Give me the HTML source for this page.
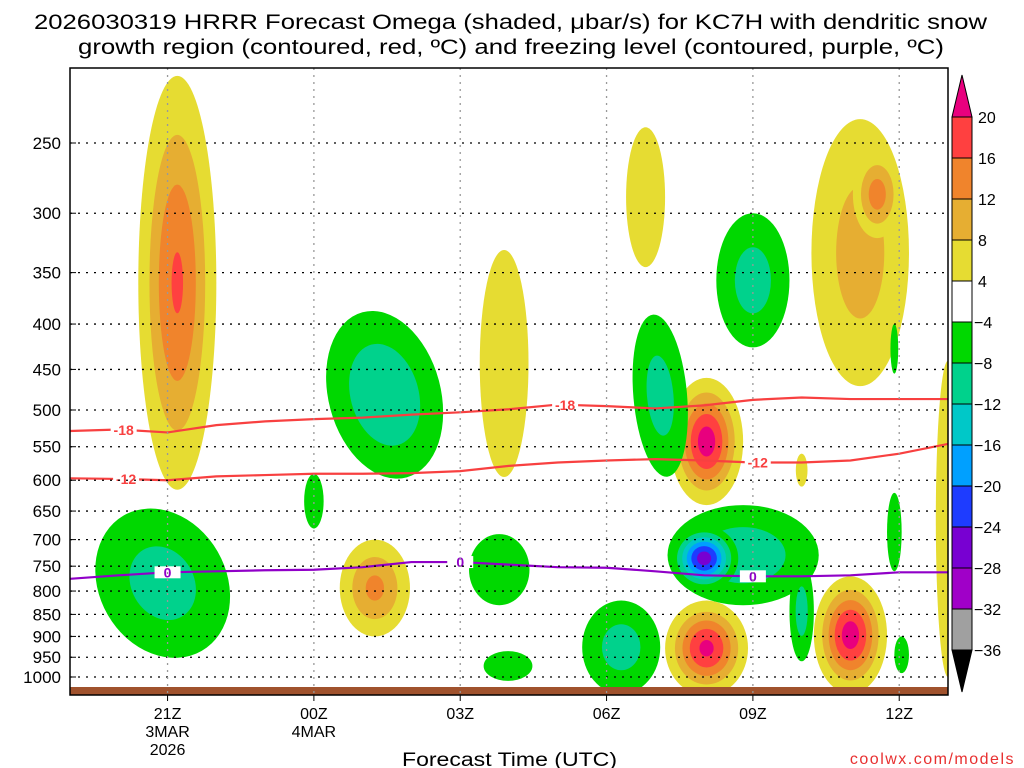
<!DOCTYPE html>
<html><head><meta charset="utf-8"><style>
body{margin:0;background:#fff;width:1024px;height:768px;overflow:hidden;font-family:"Liberation Sans",sans-serif}
svg{position:absolute;left:0;top:0}
</style></head><body>
<svg id="c" width="1024" height="768" xmlns="http://www.w3.org/2000/svg"></svg>
<script>
// ---- data ----
const pressureTicks=[250,300,350,400,450,500,550,600,650,700,750,800,850,900,950,1000];
const timeTickHours=[2,5,8,11,14,17];
const timeTickLabels=["21Z","00Z","03Z","06Z","09Z","12Z"];
const dateLabels=[["3MAR","2026"],["4MAR"],[],[],[],[]];
const cbLevels=[20,16,12,8,4,-4,-8,-12,-16,-20,-24,-28,-32,-36];
const cbColors=["#ff4040","#f0842c","#e6ae32","#e6dc32","#ffffff","#00d800","#00d28c","#00c8c8","#00a0ff","#1e3cff","#7800d2","#a000c8","#a0a0a0"];
// omega cells: center hour, half width (hours), top pressure, bottom pressure, peak value, tilt(deg)
const cellHour=[2.2,6.25,8.9,11.8,13.05,13.05,16.0,16.2,15.0,18.0,6.45,5.0,1.9,8.98,8.8,12.1,14.0,13.8,13.0,11.3,15.0,16.9,17.05,16.9,16.55];
const cellHalfW=[0.8,0.72,0.5,0.4,0.75,0.85,0.75,1.0,0.12,0.25,1.15,0.2,1.3,0.5,0.62,0.55,0.75,1.55,0.7,0.8,0.25,0.15,0.15,0.08,0.5];
const cellPTop=[210,700,330,240,460,820,770,235,560,440,385,590,640,935,690,390,300,640,675,820,740,620,900,400,255];
const cellPBot=[615,900,595,345,640,1050,1045,470,610,1000,600,680,960,1010,830,595,425,830,800,1045,960,760,990,455,320];
const cellPeak=[16.5,13,6,6,22,21,22,10,5,6,-12,-5,-10,-6,-6,-10,-10,-11,-26,-10,-10,-6,-6,-5,14];
const cellTilt=[0,0,0,0,0,0,0,0,0,0,-15,0,-30,0,0,-5,0,0,0,0,0,0,0,0,0];
// isotherms / freezing level pressure per hour 0..18
const lineHours=[0,1,2,3,4,5,6,7,8,9,10,11,12,13,14,15,16,17,18];
const iso18=[528,526,530,520,515,512,510,506,503,499,493,495,498,494,487,484,486,486,486];
const iso12=[597,598,600,594,592,590,590,589,586,578,573,570,568,570,573,573,570,560,546];
const frz=[775,768,762,760,758,757,752,742,742,747,752,753,760,768,770,770,768,762,762];
const labels=[["-18",iso18,1.1],["-18",iso18,10.15],["-12",iso12,1.15],["-12",iso12,14.1],["0",frz,2.0],["0",frz,8.0],["0",frz,14.0]];

// ---- axes ----
const X0=70,X1=948,Y0=68,Y1=695;
const xs=h=>X0+h*(X1-X0)/18;
const ys=p=>143+(Math.log(p)-Math.log(250))*385.2;
const svg=document.getElementById('c');
const NS="http://www.w3.org/2000/svg";
function el(t,a,parent){const e=document.createElementNS(NS,t);for(const k in a)e.setAttribute(k,a[k]);(parent||svg).appendChild(e);return e;}
function txt(s,a,parent){const e=el('text',a,parent);e.textContent=s;return e;}

const clip=el('clipPath',{id:'pc'});el('rect',{x:X0,y:Y0,width:X1-X0,height:Y1-Y0},clip);
const g=el('g',{'clip-path':'url(#pc)'});



function colorFor(v){
  if(v>=20)return "#e8007e";
  if(v<=-36)return "#000";
  for(let i=0;i<cbLevels.length-1;i++){if(v<cbLevels[i]&&v>=cbLevels[i+1])return cbColors[i];}
  return "#fff";
}
cellHour.forEach((h,i)=>{
  const M=Math.abs(cellPeak[i]),sg=Math.sign(cellPeak[i]);
  if(M<=4)return;
  const cx=xs(h),yt=ys(cellPTop[i]),yb=ys(cellPBot[i]),cy=(yt+yb)/2;
  const rx=xs(h+cellHalfW[i])-cx,ry=(yb-yt)/2;
  const base=Math.sqrt(Math.log(M/4));
  const lv=[4,8,12,16,20,24,28,32,36].filter(L=>L<M);
  lv.forEach(L=>{
    const s=Math.sqrt(Math.log(M/L))/base;
    const e=el('ellipse',{cx:cx,cy:cy,rx:Math.max(rx*s,2),ry:Math.max(ry*s,2),fill:colorFor(sg*(L+0.1)),transform:`rotate(${cellTilt[i]} ${cx} ${cy})`},g);
    
    
  });
});
// ground
const gr=el('rect',{x:X0,y:687,width:X1-X0,height:8,fill:'#a0522d'});

// grid
pressureTicks.forEach(p=>{
  const l=el('line',{x1:X0,x2:X1,y1:ys(p),y2:ys(p),stroke:'#000','stroke-dasharray':'2,6','stroke-width':1.3});
  
  el('line',{x1:X0,x2:X0+6,y1:ys(p),y2:ys(p),stroke:'#000'});
  const t=txt(String(p),{x:61,y:ys(p)+6,'text-anchor':'end','font-size':17,fill:'#000'});
  
});
timeTickHours.forEach((h,i)=>{
  const l=el('line',{x1:xs(h),x2:xs(h),y1:Y0,y2:Y1,stroke:'#999','stroke-dasharray':'2,5','stroke-width':1.3});
  
  el('line',{x1:xs(h),x2:xs(h),y1:Y1,y2:Y1+6,stroke:'#000'});
  const t=txt(timeTickLabels[i],{x:xs(h),y:719,'text-anchor':'middle','font-size':16});
  
  dateLabels[i].forEach((d,j)=>{const u=txt(d,{x:xs(h),y:737+j*18,'text-anchor':'middle','font-size':16});
    });
});
// lines
function drawLine(arr,col,name){
  const d=lineHours.map((h,i)=>(i?'L':'M')+xs(h)+','+ys(arr[i])).join(' ');
  const p=el('path',{d:d,fill:'none',stroke:col,'stroke-width':2.2},g);
  
}
drawLine(iso18,'#f84040','isotherm-minus18');
drawLine(iso12,'#f84040','isotherm-minus12');
drawLine(frz,'#9000c8','freezing-level');
labels.forEach(([s,arr,h])=>{
  const i=Math.floor(h),f=h-i,p=arr[i]+(arr[Math.min(i+1,18)]-arr[i])*f;
  const col=s==="0"?'#9000c8':'#f84040';
  el('rect',{x:xs(h)-13,y:ys(p)-6,width:26,height:12,fill:'#fff'},g);
  const t=txt(s,{x:xs(h),y:ys(p)+5,'text-anchor':'middle','font-size':14,'font-weight':'bold',fill:col},g);
  
});
const fr=el('rect',{x:X0,y:Y0,width:X1-X0,height:Y1-Y0,fill:'none',stroke:'#000','stroke-width':1.5});

// colorbar
const cbx=952,cbw=20,cby=117,step=41;
const cb=el('g',{});
el('polygon',{points:`${cbx},${cby} ${cbx+cbw},${cby} ${cbx+cbw/2},${cby-42}`,fill:'#e8007e',stroke:'#000'},cb);
cbColors.forEach((c,i)=>el('rect',{x:cbx,y:cby+i*step,width:cbw,height:step,fill:c,stroke:'#000'},cb));
const cbb=cby+cbColors.length*step;
el('polygon',{points:`${cbx},${cbb} ${cbx+cbw},${cbb} ${cbx+cbw/2},${cbb+42}`,fill:'#000',stroke:'#000'},cb);
cbLevels.forEach((v,i)=>{const t=txt((v<0?'\u2212':'')+Math.abs(v),{x:v<0?974:978,y:cby+i*step+6,'font-size':16},cb);
  });
</script>
<svg width="1024" height="768" style="pointer-events:none" xmlns="http://www.w3.org/2000/svg">
<text x="34" y="29" textLength="953" lengthAdjust="spacingAndGlyphs" font-size="21" font-family="Liberation Sans, sans-serif">2026030319 HRRR Forecast Omega (shaded, μbar/s) for KC7H with dendritic snow</text>
<text x="78" y="54" textLength="866" lengthAdjust="spacingAndGlyphs" font-size="21" font-family="Liberation Sans, sans-serif">growth region (contoured, red, ºC) and freezing level (contoured, purple, ºC)</text>
<text x="402" y="766" textLength="215" lengthAdjust="spacingAndGlyphs" font-size="19" font-family="Liberation Sans, sans-serif">Forecast Time (UTC)</text>
<text x="1015" y="764" text-anchor="end" font-size="16" fill="#e83030" letter-spacing="1.5" font-family="Liberation Sans, sans-serif">coolwx.com/models</text>
</svg>
</body></html>
